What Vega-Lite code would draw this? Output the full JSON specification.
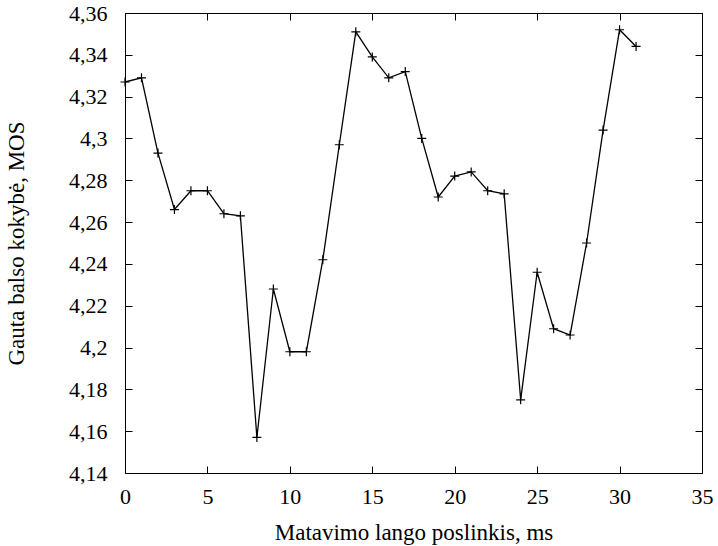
{
  "$schema": "https://vega.github.io/schema/vega-lite/v6.json",
  "width": 577,
  "height": 460,
  "autosize": "none",
  "padding": {"left": 125, "top": 13, "right": 16, "bottom": 73},
  "background": "white",
  "config": {
    "view": {"stroke": null},
    "font": "Liberation Serif",
    "axis": {
      "labelFont": "Liberation Serif",
      "titleFont": "Liberation Serif",
      "labelFontSize": 22,
      "titleFontSize": 23,
      "titleFontWeight": "normal",
      "labelColor": "black",
      "titleColor": "black",
      "domainColor": "black",
      "tickColor": "black",
      "domainWidth": 1,
      "tickWidth": 1,
      "labelFlush": false,
      "labelOverlap": false,
      "grid": false
    }
  },
  "data": {
    "values": [
      {"x": 0, "y": 4.327}, {"x": 1, "y": 4.329}, {"x": 2, "y": 4.293}, {"x": 3, "y": 4.266},
      {"x": 4, "y": 4.275}, {"x": 5, "y": 4.275}, {"x": 6, "y": 4.264}, {"x": 7, "y": 4.263},
      {"x": 8, "y": 4.157}, {"x": 9, "y": 4.228}, {"x": 10, "y": 4.198}, {"x": 11, "y": 4.198},
      {"x": 12, "y": 4.242}, {"x": 13, "y": 4.297}, {"x": 14, "y": 4.351}, {"x": 15, "y": 4.339},
      {"x": 16, "y": 4.329}, {"x": 17, "y": 4.332}, {"x": 18, "y": 4.300}, {"x": 19, "y": 4.272},
      {"x": 20, "y": 4.282}, {"x": 21, "y": 4.284}, {"x": 22, "y": 4.275}, {"x": 23, "y": 4.2735},
      {"x": 24, "y": 4.175}, {"x": 25, "y": 4.236}, {"x": 26, "y": 4.209}, {"x": 27, "y": 4.206},
      {"x": 28, "y": 4.250}, {"x": 29, "y": 4.304}, {"x": 30, "y": 4.352}, {"x": 31, "y": 4.344}
    ]
  },
  "layer": [
    {
      "mark": {"type": "line", "color": "black", "strokeWidth": 1.3},
      "encoding": {
        "x": {
          "field": "x", "type": "quantitative",
          "scale": {"domain": [0, 35], "nice": false, "zero": false},
          "axis": {
            "orient": "bottom",
            "values": [0, 5, 10, 15, 20, 25, 30, 35],
            "tickSize": -7,
            "labelPadding": 20,
            "title": "Matavimo lango poslinkis, ms",
            "titlePadding": 14
          }
        },
        "y": {
          "field": "y", "type": "quantitative",
          "scale": {"domain": [4.14, 4.36], "nice": false, "zero": false},
          "axis": {
            "orient": "left",
            "values": [4.14, 4.16, 4.18, 4.2, 4.22, 4.24, 4.26, 4.28, 4.3, 4.32, 4.34, 4.36],
            "tickSize": -7,
            "labelPadding": 25,
            "labelExpr": "replace(format(datum.value, '~g'), '.', ',')",
            "title": "Gauta balso kokybė, MOS",
            "titlePadding": 40
          }
        }
      }
    },
    {
      "mark": {"type": "point", "shape": "M-1,0L1,0M0,-1L0,1", "filled": false, "size": 81, "strokeWidth": 1.2, "color": "black", "opacity": 1},
      "encoding": {
        "x": {
          "field": "x", "type": "quantitative",
          "axis": {
            "orient": "top",
            "values": [0, 5, 10, 15, 20, 25, 30, 35],
            "tickSize": -7,
            "labels": false,
            "title": null
          }
        },
        "y": {
          "field": "y", "type": "quantitative",
          "axis": {
            "orient": "right",
            "values": [4.14, 4.16, 4.18, 4.2, 4.22, 4.24, 4.26, 4.28, 4.3, 4.32, 4.34, 4.36],
            "tickSize": -7,
            "labels": false,
            "title": null
          }
        }
      }
    }
  ],
  "resolve": {"axis": {"x": "independent", "y": "independent"}}
}
